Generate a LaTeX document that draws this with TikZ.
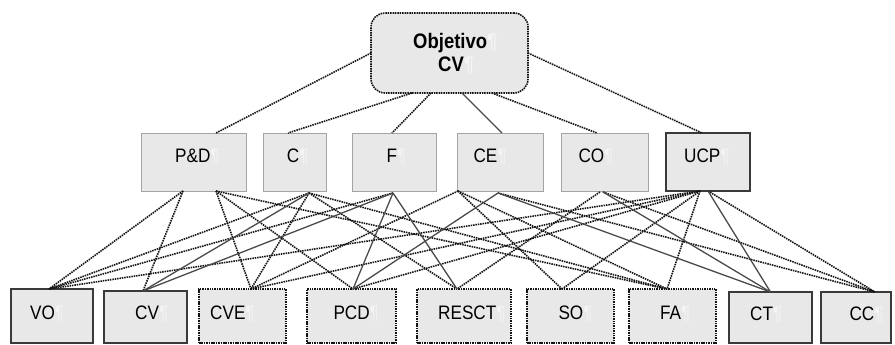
\documentclass[tikz,border=0pt]{standalone}
\usepackage{fontspec}
\newfontfamily\labfont{Liberation Sans}[FakeStretch=0.88]
\usetikzlibrary{calc}
\definecolor{boxfill}{HTML}{E8E8E8}
\definecolor{midedge}{HTML}{A4A4A4}
\definecolor{darkedge}{HTML}{3A3A3A}
\definecolor{dotline}{HTML}{141414}
\definecolor{solidline}{HTML}{4A4A4A}
\definecolor{pil}{HTML}{F4F4F4}
\newcommand{\pmark}{\textcolor{pil}{¶}}
\begin{document}
\begin{tikzpicture}[x=1pt,y=-1pt,
  box/.style={fill=boxfill,inner sep=0pt,outer sep=0pt,minimum width=#1},
  midbox/.style={box=#1,draw=midedge,line width=1pt,minimum height=58pt},
  ucpbox/.style={box=#1,draw=darkedge,line width=1.2pt,minimum height=58pt},
  solidbox/.style={box=#1,draw=darkedge,line width=1.2pt},
  dotbox/.style={box=#1,draw=dotline,line width=1.5pt,dash pattern=on 1.5pt off 0.9pt},
  topbox/.style={box=#1,draw=dotline,line width=1.6pt,dash pattern=on 1.5pt off 0.9pt,
    rounded corners=14pt,minimum height=80pt},
  lab/.style={anchor=base west,inner sep=0pt,font=\labfont\fontsize{19.5}{22}\selectfont},
  toplab/.style={anchor=base west,inner sep=0pt,font=\labfont\bfseries\fontsize{21}{24}\selectfont},
  dotc/.style={draw=dotline,line width=1.6pt,dash pattern=on 1.5pt off 0.9pt},
  solc/.style={draw=solidline,line width=1.3pt},
]
\useasboundingbox (0,0) rectangle (895,345);

% goal
\node[topbox=157pt] (top) at (449.5,53) {};
\node[toplab] (top-t1) at (413,49) {Objetivo\pmark};
\node[toplab] (top-t2) at (438,72) {CV\pmark};

% criteria
\node[midbox=105pt] (PD) at (193.5,162) {};
\node[midbox=63pt]  (C)  at (294.5,162) {};
\node[midbox=84pt]  (F)  at (394,162) {};
\node[midbox=86pt]  (CE) at (500,162) {};
\node[midbox=87pt]  (CO) at (604.5,162) {};
\node[ucpbox=84pt]  (UCP) at (708,162) {};
\node[lab] (PD-t)  at (175,162.5) {P\&D\pmark};
\node[lab] (C-t)   at (286.7,162.5) {C\pmark};
\node[lab] (F-t)   at (386.5,162.5) {F\pmark};
\node[lab] (CE-t)  at (473.3,162.5) {CE\pmark};
\node[lab] (CO-t)  at (578.3,162.5) {CO\pmark};
\node[lab] (UCP-t) at (684,162.5) {UCP\pmark};

% sub-criteria
\node[solidbox=82pt,minimum height=54pt] (VO)  at (52,316) {};
\node[solidbox=83pt,minimum height=52pt] (CV)  at (145.5,317) {};
\node[dotbox=87pt,minimum height=54pt]   (CVE) at (242.5,316) {};
\node[dotbox=89pt,minimum height=54pt]   (PCD) at (351.5,316) {};
\node[dotbox=94pt,minimum height=54pt]   (RESCT) at (464,316) {};
\node[dotbox=87pt,minimum height=54pt]   (SO)  at (570.5,316) {};
\node[dotbox=87pt,minimum height=54pt]   (FA)  at (672.5,316) {};
\node[solidbox=83pt,minimum height=51pt] (CT)  at (770.5,317.5) {};
\node[solidbox=70pt,minimum height=51pt] (CC)  at (856,317.5) {};
\node[lab] (VO-t)    at (30,319.5) {VO\pmark};
\node[lab] (CV-t)    at (135,319.5) {CV\pmark};
\node[lab] (CVE-t)   at (210,319.5) {CVE\pmark};
\node[lab] (PCD-t)   at (333.3,319.5) {PCD\pmark};
\node[lab] (RESCT-t) at (438,319.5) {RESCT\pmark};
\node[lab] (SO-t)    at (558.3,319.5) {SO\pmark};
\node[lab] (FA-t)    at (660,319.5) {FA\pmark};
\node[lab] (CT-t)    at (750,320.5) {CT\pmark};
\node[lab] (CC-t)    at (849.3,320.5) {CC\pmark};

% attachment points on the boxes
\coordinate (top-s1) at ([xshift=-37.5pt]top.south);
\coordinate (top-s2) at ([xshift=-18.5pt]top.south);
\coordinate (top-s3) at ([xshift=12.5pt]top.south);
\coordinate (top-s4) at ([xshift=42.5pt]top.south);
\coordinate (PD-n) at ([xshift=22.5pt]PD.north);
\coordinate (C-n)  at ([xshift=-6.5pt]C.north);
\coordinate (F-n)  at ([xshift=-2pt]F.north);
\coordinate (CE-n) at ([xshift=2pt]CE.north);
\coordinate (CO-n) at ([xshift=-7.5pt]CO.north);
\coordinate (UCP-n) at ([xshift=-6pt]UCP.north);

\coordinate (PD-a) at ([xshift=-10.5pt]PD.south);
\coordinate (PD-b) at ([xshift=22.5pt]PD.south);
\coordinate (C-s)  at ([xshift=14.5pt,yshift=-2pt]C.south);
\coordinate (F-s)  at ([xshift=-1pt,yshift=-2pt]F.south);
\coordinate (CE-a) at ([xshift=-42pt]CE.south);
\coordinate (CE-b) at ([xshift=-2pt,yshift=-2pt]CE.south);
\coordinate (CO-a) at ([xshift=-4.5pt,yshift=-1pt]CO.south);
\coordinate (CO-b) at ([xshift=-1.5pt,yshift=-1pt]CO.south);
\coordinate (UCP-a) at ([xshift=-8pt]UCP.south);
\coordinate (UCP-b) at (UCP.south);

\coordinate (VO-n)  at ([xshift=-3pt]VO.north);
\coordinate (CV-n)  at ([xshift=-2.5pt]CV.north);
\coordinate (CVE-n) at ([xshift=8.5pt]CVE.north);
\coordinate (PCD-n) at ([xshift=1.5pt]PCD.north);
\coordinate (RESCT-n) at ([xshift=-7pt]RESCT.north);
\coordinate (SO-n)  at ([xshift=-8.5pt]SO.north);
\coordinate (FA-n)  at ([xshift=-5.5pt]FA.north);
\coordinate (CT-n)  at (CT.north);
\coordinate (CC-n)  at ([xshift=19pt]CC.north);

% goal to criteria
\draw[dotc] (top.west) -- (PD-n);
\draw[dotc] (top-s1) -- (C-n);
\draw[dotc] (top-s2) -- (F-n);
\draw[solc] (top-s3) -- (CE-n);
\draw[dotc] (top-s4) -- (CO-n);
\draw[dotc] (top.east) -- (UCP-n);

% criteria to sub-criteria, dotted
\draw[dotc] (PD-a) -- (VO-n);
\draw[dotc] (PD-a) -- (CV-n);
\draw[dotc] (PD-b) -- (CVE-n);
\draw[dotc] (PD-b) -- (PCD-n);
\draw[dotc] (PD-b) -- (FA-n);
\draw[dotc] (C-s) -- (VO-n);
\draw[dotc] (C-s) -- (CVE-n);
\draw[dotc] (C-s) -- (RESCT-n);
\draw[dotc] (C-s) -- (FA-n);
\draw[dotc] (F-s) -- (VO-n);
\draw[dotc] (CE-a) -- (CVE-n);
\draw[dotc] (CE-a) -- (SO-n);
\draw[dotc] (CE-a) -- (FA-n);
\draw[dotc] (CE-b) -- (CC-n);
\draw[dotc] (CO-a) -- (RESCT-n);
\draw[dotc] (CO-b) -- (CC-n);
\draw[dotc] (UCP-a) -- (VO-n);
\draw[dotc] (UCP-a) -- (CVE-n);
\draw[dotc] (UCP-a) -- (PCD-n);
\draw[dotc] (UCP-a) -- (SO-n);
\draw[dotc] (UCP-a) -- (FA-n);
\draw[dotc] (UCP-b) -- (CC-n);

% criteria to sub-criteria, solid
\draw[solc] (C-s) -- (CV-n);
\draw[solc] (F-s) -- (CV-n);
\draw[solc] (F-s) -- (PCD-n);
\draw[solc] (F-s) -- (RESCT-n);
\draw[solc] (CE-b) -- (PCD-n);
\draw[solc] (CE-b) -- (CT-n);
\draw[solc] (CO-b) -- (CT-n);
\draw[solc] (UCP-b) -- (CT-n);
\end{tikzpicture}
\end{document}
